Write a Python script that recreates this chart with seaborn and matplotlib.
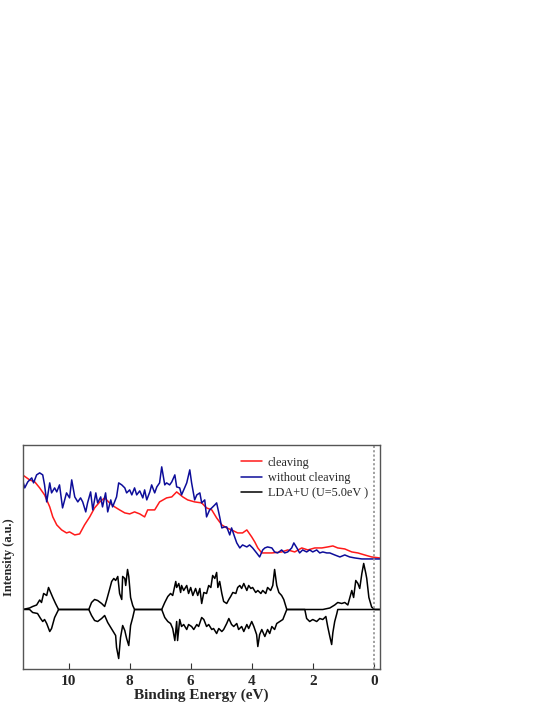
# photoemission spectra vs LDA+U DOS
import matplotlib
matplotlib.use("Agg")
import matplotlib.pyplot as plt
import seaborn as sns

# experimental spectra (binding energy in eV, intensity in a.u.)
cleave_E = [11.51, 11.28, 11.11, 10.95, 10.79, 10.62, 10.52, 10.39, 10.23, 10.07,
            9.97, 9.80, 9.64, 9.48, 9.31, 9.15, 8.98, 8.82, 8.66, 8.49,
            8.33, 8.16, 8.00, 7.84, 7.67, 7.51, 7.41, 7.18, 7.02, 6.79,
            6.62, 6.46, 6.26, 6.10, 5.87, 5.64, 5.48, 5.31, 5.15, 4.98,
            4.82, 4.66, 4.46, 4.30, 4.16, 4.00, 3.90, 3.80, 3.67, 3.34,
            3.02, 2.82, 2.59, 2.36, 2.16, 1.93, 1.70, 1.51, 1.34, 1.18,
            0.95, 0.72, 0.52, 0.30, 0.07, -0.20]
cleave_I = [1.94, 1.89, 1.87, 1.81, 1.74, 1.62, 1.52, 1.44, 1.39, 1.36,
            1.37, 1.34, 1.35, 1.44, 1.52, 1.61, 1.67, 1.71, 1.66, 1.62,
            1.59, 1.56, 1.55, 1.57, 1.55, 1.52, 1.59, 1.59, 1.67, 1.71,
            1.72, 1.77, 1.72, 1.69, 1.67, 1.66, 1.61, 1.59, 1.51, 1.44,
            1.41, 1.39, 1.36, 1.36, 1.39, 1.32, 1.27, 1.21, 1.16, 1.16,
            1.17, 1.19, 1.17, 1.21, 1.19, 1.21, 1.21, 1.22, 1.23, 1.21,
            1.20, 1.17, 1.16, 1.14, 1.12, 1.11]

nocleave_E = [11.51, 11.44, 11.34, 11.21, 11.15, 11.05, 10.95, 10.85, 10.79, 10.72,
              10.62, 10.56, 10.46, 10.39, 10.30, 10.20, 10.07, 9.97, 9.90, 9.80,
              9.70, 9.61, 9.54, 9.44, 9.38, 9.28, 9.21, 9.11, 9.05, 8.95,
              8.89, 8.79, 8.72, 8.62, 8.56, 8.43, 8.36, 8.26, 8.16, 8.10,
              8.00, 7.93, 7.84, 7.77, 7.67, 7.57, 7.51, 7.44, 7.34, 7.28,
              7.18, 7.11, 7.02, 6.95, 6.85, 6.79, 6.69, 6.62, 6.52, 6.46,
              6.36, 6.30, 6.20, 6.13, 6.03, 5.97, 5.87, 5.80, 5.70, 5.64,
              5.54, 5.48, 5.38, 5.31, 5.21, 5.15, 5.05, 4.98, 4.89, 4.82,
              4.72, 4.66, 4.56, 4.49, 4.39, 4.30, 4.16, 4.07, 3.97, 3.84,
              3.74, 3.64, 3.57, 3.48, 3.34, 3.25, 3.15, 3.02, 2.92, 2.82,
              2.69, 2.62, 2.52, 2.43, 2.33, 2.20, 2.10, 2.00, 1.87, 1.77,
              1.67, 1.54, 1.44, 1.28, 1.11, 0.95, 0.79, 0.62, 0.39, 0.20,
              -0.20]
nocleave_I = [1.89, 1.81, 1.87, 1.91, 1.86, 1.94, 1.96, 1.94, 1.84, 1.67,
              1.86, 1.76, 1.81, 1.77, 1.84, 1.61, 1.76, 1.71, 1.89, 1.72,
              1.67, 1.71, 1.67, 1.57, 1.66, 1.77, 1.59, 1.76, 1.66, 1.72,
              1.62, 1.76, 1.57, 1.69, 1.62, 1.72, 1.86, 1.84, 1.81, 1.76,
              1.79, 1.74, 1.81, 1.74, 1.78, 1.71, 1.79, 1.69, 1.77, 1.84,
              1.76, 1.82, 1.86, 2.02, 1.84, 1.86, 1.84, 1.87, 1.94, 1.82,
              1.81, 1.74, 1.81, 1.86, 1.99, 1.86, 1.69, 1.74, 1.76, 1.66,
              1.69, 1.52, 1.59, 1.61, 1.64, 1.66, 1.52, 1.41, 1.42, 1.42,
              1.34, 1.41, 1.32, 1.26, 1.21, 1.24, 1.22, 1.24, 1.21, 1.16,
              1.12, 1.19, 1.21, 1.22, 1.21, 1.17, 1.16, 1.19, 1.16, 1.17,
              1.21, 1.26, 1.21, 1.16, 1.19, 1.17, 1.19, 1.17, 1.19, 1.16,
              1.17, 1.16, 1.16, 1.14, 1.12, 1.14, 1.12, 1.11, 1.10, 1.10,
              1.10]

# LDA+U (U=5.0eV) density of states, spin up (positive) and spin down (negative)
dos_up_E = [11.51, 11.28, 11.18, 11.05, 10.95, 10.89, 10.82, 10.72, 10.66, 10.59,
            10.52, 10.43, 10.33, 9.34, 9.25, 9.15, 9.05, 8.92, 8.82, 8.75,
            8.66, 8.59, 8.52, 8.46, 8.39, 8.33, 8.26, 8.23, 8.16, 8.13,
            8.07, 8.03, 7.97, 7.90, 7.84, 6.95, 6.85, 6.75, 6.66, 6.59,
            6.49, 6.46, 6.39, 6.33, 6.30, 6.23, 6.13, 6.07, 6.00, 5.93,
            5.84, 5.77, 5.70, 5.64, 5.57, 5.48, 5.41, 5.34, 5.28, 5.21,
            5.15, 5.11, 5.05, 4.98, 4.92, 4.82, 4.75, 4.69, 4.62, 4.52,
            4.46, 4.39, 4.33, 4.26, 4.16, 4.10, 4.03, 3.97, 3.87, 3.80,
            3.70, 3.64, 3.54, 3.48, 3.38, 3.31, 3.25, 3.18, 3.11, 3.02,
            2.95, 2.85, 1.67, 1.44, 1.28, 1.18, 1.05, 0.95, 0.85, 0.72,
            0.66, 0.59, 0.52, 0.46, 0.39, 0.33, 0.26, 0.23, 0.16, 0.07,
            -0.03, -0.20]
dos_up = [0, 1.5, 3, 4.5, 9.5, 7, 16, 14, 22, 17,
          12, 6, 0, 0, 7, 10, 9, 6, 3, 10,
          20, 28, 31, 29, 33, 16, 10, 33, 31, 24,
          40, 33, 12, 4, 0, 0, 7, 13, 16, 14,
          28, 22, 26, 17, 24, 19, 24, 16, 22, 14,
          21, 14, 21, 6, 17, 16, 24, 22, 34, 31,
          37, 22, 28, 16, 8, 6, 10, 13, 17, 16,
          22, 24, 21, 26, 19, 24, 21, 22, 17, 19,
          16, 19, 16, 22, 19, 24, 40, 24, 17, 14,
          10, 0, 0, 1.5, 4.5, 7, 6, 7, 4.5, 19,
          12, 29, 26, 21, 36, 46, 36, 31, 12, 2.5,
          0, 0]

dos_dn_E = [11.51, 11.28, 11.18, 11.02, 10.92, 10.85, 10.79, 10.72, 10.62, 10.56,
            10.46, 10.33, 9.34, 9.25, 9.15, 9.05, 8.92, 8.82, 8.72, 8.62,
            8.56, 8.46, 8.43, 8.36, 8.30, 8.23, 8.16, 8.10, 8.03, 7.97,
            7.90, 7.84, 6.95, 6.85, 6.75, 6.66, 6.59, 6.52, 6.46, 6.43,
            6.36, 6.30, 6.23, 6.13, 6.07, 5.97, 5.90, 5.80, 5.74, 5.64,
            5.57, 5.48, 5.41, 5.31, 5.25, 5.15, 5.08, 4.98, 4.92, 4.82,
            4.75, 4.66, 4.59, 4.49, 4.43, 4.33, 4.26, 4.16, 4.10, 4.00,
            3.93, 3.84, 3.80, 3.74, 3.67, 3.57, 3.48, 3.41, 3.34, 3.25,
            3.18, 3.08, 2.98, 2.85, 2.26, 2.20, 2.10, 2.00, 1.87, 1.77,
            1.67, 1.57, 1.51, 1.44, 1.38, 1.34, 1.28, 1.21, 1.18, -0.20]
dos_dn = [0, 0, -3, -4, -9, -12, -10, -14, -22, -19,
          -8, 0, 0, -6, -11, -12, -9, -6, -13, -18,
          -21, -26, -38, -49, -28, -16, -21, -29, -36, -16,
          -8, 0, 0, -8, -12, -14, -19, -31, -12, -31,
          -10, -17, -15, -20, -15, -17, -20, -15, -17, -8,
          -10, -17, -15, -20, -19, -24, -19, -22, -20, -14,
          -9, -15, -17, -14, -20, -17, -22, -15, -19, -12,
          -17, -25, -37, -25, -20, -27, -20, -24, -17, -20,
          -14, -12, -10, 0, 0, -9, -12, -10, -12, -9,
          -10, -7, -17, -27, -35, -23, -12, -4, 0, 0]

# DOS drawn below the spectra
dos_base = 0.595
dos_scale = 0.01

sns.set_style("white")
plt.rcParams['font.family'] = ['Liberation Serif', 'DejaVu Serif']

fig = plt.figure(figsize=(5.45, 7.05), dpi=100)
ax = fig.add_axes([0.042, 0.051, 0.655, 0.318])

sns.lineplot(x=cleave_E, y=cleave_I, ax=ax, color='#ff1a1a', lw=1.1,
             sort=False, estimator=None, label='cleaving')
sns.lineplot(x=nocleave_E, y=nocleave_I, ax=ax, color='#0d0d9a', lw=1.1,
             sort=False, estimator=None, label='without cleaving')
sns.lineplot(x=dos_up_E, y=[dos_base + v * dos_scale for v in dos_up], ax=ax,
             color='black', lw=1.1, sort=False, estimator=None,
             label='LDA+U (U=5.0eV )')
sns.lineplot(x=dos_dn_E, y=[dos_base + v * dos_scale for v in dos_dn], ax=ax,
             color='black', lw=1.1, sort=False, estimator=None)

# Fermi level
ax.axvline(0, color='#999999', ls=(0, (1.2, 1.2)), lw=1.3)

ax.set_xlim(11.5, -0.2)
ax.set_ylim(0, 2.24)
ax.set_xticks([10, 8, 6, 4, 2, 0])
ax.set_xticklabels(['10', '8', '6', '4', '2', '0'], fontweight='bold')
ax.set_yticks([])
ax.tick_params(axis='x', direction='in', length=4, width=0.8, labelsize=11,
               bottom=True, pad=4, color='#333333')
ax.set_xlabel('Binding Energy (eV)', fontsize=11, fontweight='bold', labelpad=1)
ax.set_ylabel('Intensity (a.u.)', fontsize=9, fontweight='bold', labelpad=6)
for s in ax.spines.values():
    s.set_color('#555555')
    s.set_linewidth(1.0)

leg = ax.legend(loc='upper right', frameon=False, fontsize=8.8,
                handlelength=1.7, handletextpad=0.5, labelspacing=0.25,
                borderaxespad=0.3, bbox_to_anchor=(0.99, 0.985))

fig.savefig('out.png', dpi=100)
